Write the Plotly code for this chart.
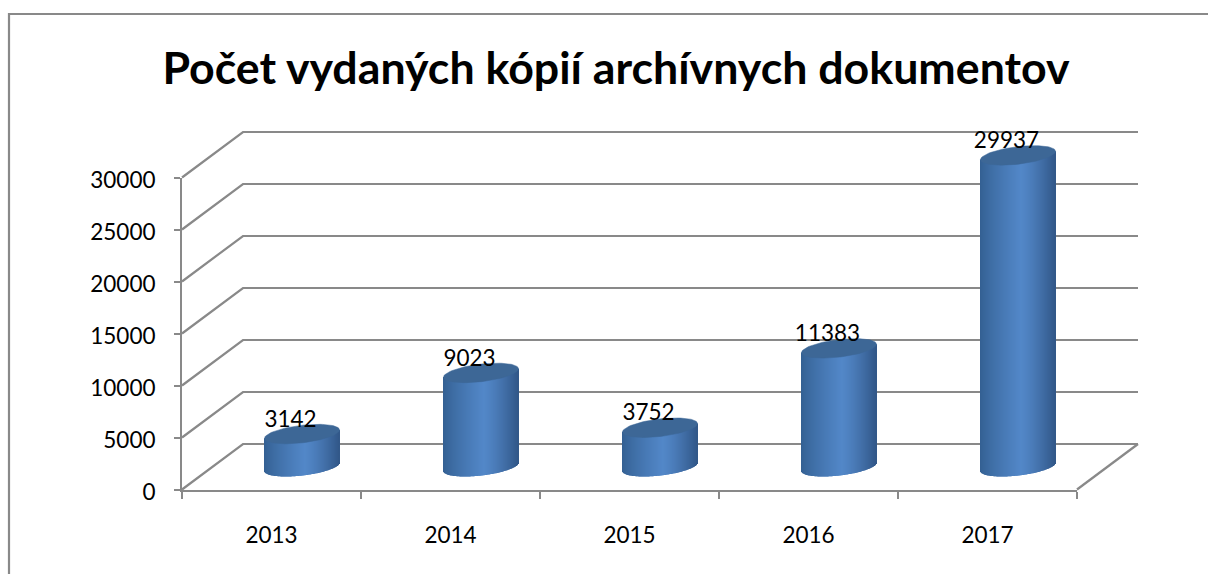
import numpy as np
import plotly.graph_objects as go

# --- data ---
years = ["2013", "2014", "2015", "2016", "2017"]
copies = [3142, 9023, 3752, 11383, 29937]
y_ticks = [0, 5000, 10000, 15000, 20000, 25000, 30000]
title_text = "Počet vydaných kópií archívnych dokumentov"

# --- canvas / plot box (pixels) ---
W, H = 1208, 574
L, R, T, B = 182, 1077, 177.5, 489.5
X_MAX, Y_MAX = 5, 30000
px_x = (R - L) / X_MAX      # pixels per category
px_y = (B - T) / Y_MAX      # pixels per unit

# 3D look: depth offset of the back wall, in data units
DX = 61 / px_x
DY = 45.5 / px_y
# tilted ellipse of each cylinder
ELL_A = 37.5 / px_x
ELL_B = 8.8 / px_y
ELL_S = 4.2 / px_y

GRAY = "#898989"
FONT = "Lato"


def lerp_hex(c1, c2, f):
    a = [int(c1[i:i + 2], 16) for i in (1, 3, 5)]
    b = [int(c2[i:i + 2], 16) for i in (1, 3, 5)]
    return "rgb(%d,%d,%d)" % tuple(round(p + (q - p) * f) for p, q in zip(a, b))


def side_color(t):
    if t < 0.08:
        return lerp_hex("#335F91", "#5287C8", ((t + 1) / 1.08) ** 0.8)
    return lerp_hex("#5287C8", "#315788", ((t - 0.08) / 0.92) ** 1.3)


N = 75
ts = (np.arange(N) + 0.5) / N * 2 - 1
root = np.sqrt(1 - ts ** 2)
centers = [i + 0.5 + DX / 2 for i in range(len(years))]
base = DY / 2

xs, bases, heights, colors = [], [], [], []
cap_x, cap_y = [], []
for cx, v in zip(centers, copies):
    for t, r in zip(ts, root):
        xs.append(cx + ELL_A * t)
        low = base + ELL_S * t - ELL_B * r
        bases.append(low)
        heights.append(base + v + ELL_S * t - low)
        colors.append(side_color(t))
    theta = np.linspace(0, 2 * np.pi, 90)
    cap_x += list(cx + ELL_A * np.cos(theta)) + [None]
    cap_y += list(base + v + ELL_S * np.cos(theta) + ELL_B * np.sin(theta)) + [None]

fig = go.Figure()
# invisible trace that keeps the visible axis pair alive
fig.add_trace(go.Scatter(
    x=[i + 0.5 for i in range(len(years))], y=copies, xaxis="x", yaxis="y",
    mode="markers", marker=dict(size=1, opacity=0),
    hoverinfo="skip", showlegend=False,
))
fig.add_trace(go.Bar(
    x=xs, y=heights, base=bases, xaxis="x2", yaxis="y2",
    width=[2 * ELL_A / N * 1.5] * len(xs),
    marker=dict(color=colors, line=dict(width=0)),
    hoverinfo="skip", showlegend=False,
))
fig.add_trace(go.Scatter(
    x=cap_x, y=cap_y, xaxis="x2", yaxis="y2",
    mode="lines", fill="toself", fillcolor="#3D6796",
    line=dict(color="#3D6796", width=0.5),
    hoverinfo="skip", showlegend=False,
))
fig.add_trace(go.Scatter(
    x=[c - 11.5 / px_x for c in centers],
    y=[base + v + 13 / px_y for v in copies],
    xaxis="x2", yaxis="y2",
    mode="text", text=[str(v) for v in copies],
    textposition="middle center",
    textfont=dict(family=FONT, size=22.5, color="#000000"),
    hoverinfo="skip", showlegend=False,
))

# back wall gridlines + depth lines, on the overlay scale
shapes = []
line = dict(color=GRAY, width=2.2)
for v in y_ticks:
    path = "M %f %f L %f %f L %f %f" % (0, v, DX, v + DY, X_MAX + DX, v + DY)
    shapes.append(dict(type="path", xref="x2", yref="y2", path=path,
                       line=line, layer="below"))
shapes.append(dict(type="line", xref="x2", yref="y2",
                   x0=X_MAX, y0=0, x1=X_MAX + DX, y1=DY,
                   line=line, layer="below"))
# outer chart frame (runs off the right and bottom page edges)
shapes.append(dict(type="rect", xref="paper", yref="paper",
                   x0=9 / W, x1=(W + 5) / W, y0=-5 / H, y1=1 - 14 / H,
                   line=line, fillcolor="rgba(0,0,0,0)", layer="below"))

axis_font = dict(family=FONT, size=22.5, color="#000000")

fig.update_layout(
    width=W, height=H,
    margin=dict(l=0, r=0, t=0, b=0, pad=0, autoexpand=False),
    paper_bgcolor="white", plot_bgcolor="rgba(0,0,0,0)",
    barmode="overlay", showlegend=False, hovermode=False,
    font=dict(family=FONT, color="#000000"),
    title=dict(text="<b>%s</b>" % title_text, x=616 / W, xanchor="center",
               y=1 - 68 / H, yanchor="middle",
               font=dict(family=FONT, size=44.7, color="#000000")),
    shapes=shapes,
    xaxis=dict(
        domain=[L / W, R / W], anchor="y", automargin=False,
        range=[0, X_MAX], showgrid=False, zeroline=False,
        showline=True, linecolor=GRAY, linewidth=2,
        tickmode="array",
        tickvals=[i + 0.5 for i in range(len(years))], ticktext=years,
        ticks="outside", ticklen=24, tickcolor="rgba(0,0,0,0)",
        tickfont=axis_font,
        minor=dict(tickmode="array", tickvals=list(range(X_MAX + 1)),
                   ticks="outside", ticklen=7, tickcolor=GRAY, tickwidth=2,
                   showgrid=False),
    ),
    yaxis=dict(
        domain=[(H - B) / H, (H - T) / H], anchor="x", automargin=False,
        range=[0, Y_MAX], showgrid=False, zeroline=False,
        showline=True, linecolor=GRAY, linewidth=2,
        tickmode="array", tickvals=y_ticks,
        ticktext=[str(v) for v in y_ticks],
        ticks="outside", ticklen=6, tickcolor=GRAY, tickwidth=2,
        ticklabelstandoff=14, ticklabelshift=3,
        tickfont=axis_font,
    ),
    # full-canvas overlay scale with the same units as the visible axes
    xaxis2=dict(domain=[0, 1], anchor="y2", visible=False, fixedrange=True,
                range=[-L / px_x, (W - L) / px_x]),
    yaxis2=dict(domain=[0, 1], anchor="x2", visible=False, fixedrange=True,
                range=[(B - H) / px_y, B / px_y]),
)

fig.write_html("out.html", config={"displayModeBar": False},
               post_script="document.body.style.margin='0';")
